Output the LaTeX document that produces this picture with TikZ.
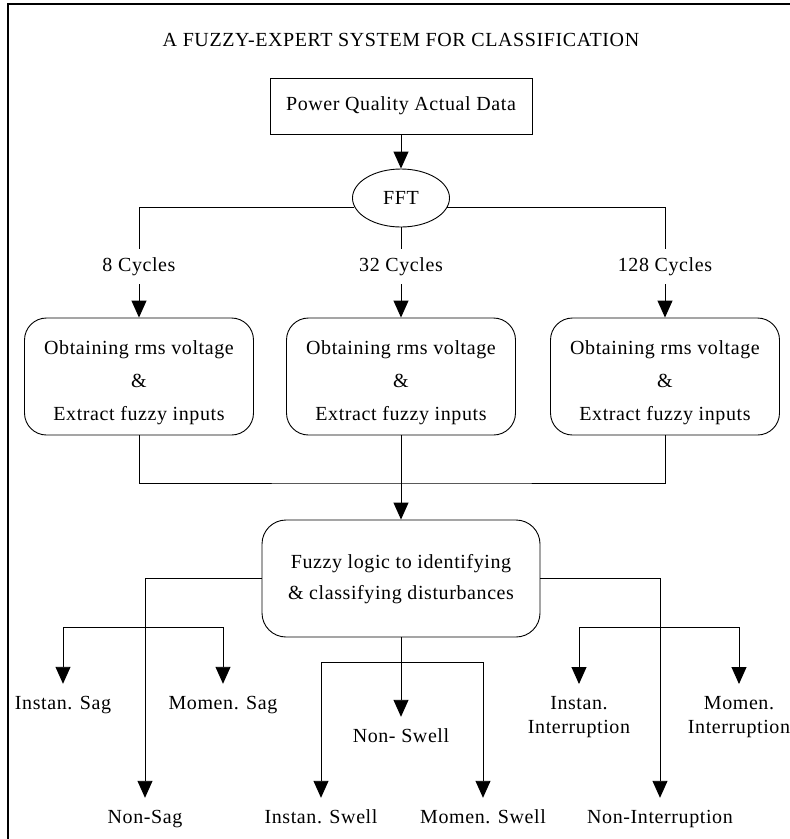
\documentclass[tikz,border=0pt]{standalone}
\usepackage{fontspec}
\setmainfont{Liberation Serif}[LetterSpace=3]
\usetikzlibrary{arrows.meta,shapes.geometric}
\begin{document}
\begin{tikzpicture}[x=1pt,y=1pt,
  every node/.style={font=\fontsize{20}{24}\selectfont},
  ln/.style={line width=0.9pt, draw=black},
  arr/.style={ln,-{Triangle[width=15pt,length=17pt]}},
  sqbox/.style={draw, line width=0.9pt, minimum width=262pt, minimum height=56pt, inner sep=0pt, text height=13pt, text depth=4pt},
  ovalbox/.style={draw, ellipse, line width=0.9pt, minimum width=97pt, minimum height=58pt, inner sep=0pt},
  rbox/.style={draw, line width=0.9pt, rounded corners=22pt, minimum width=229pt, minimum height=117pt, align=center, inner sep=0pt},
  fzbox/.style={draw, line width=0.9pt, rounded corners=24pt, minimum width=278pt, minimum height=117pt, align=center, inner sep=0pt},
  cyc/.style={anchor=base, inner xsep=2pt, inner ysep=9pt, text height=13pt, text depth=4pt},
  outlbl/.style={anchor=base, inner xsep=1pt, inner ysep=12pt, text height=13pt, text depth=4pt},
  outlbltwo/.style={anchor=north, inner xsep=1pt, inner ysep=12pt, align=center},
]
\useasboundingbox (0,0) rectangle (790,-839);
% frame (top and left edges)
\draw[line width=1.6pt] (8,-839) -- (8,-4) -- (790,-4);

% title
\node[anchor=base] (title) at (401,-46) {A FUZZY-EXPERT SYSTEM FOR CLASSIFICATION};

% top part
\node[sqbox] (pq) at (401,-106) {Power Quality Actual Data};
\node[ovalbox] (fft) at (401,-198) {FFT};
\draw[arr] (pq.south) -- (fft.north);

\node[cyc] (c8) at (139,-271) {8 Cycles};
\node[cyc] (c32) at (401,-271) {32 Cycles};
\node[cyc] (c128) at (665,-271) {128 Cycles};

\draw[ln] (fft.191.2) -| (c8.north);
\draw[ln] (fft.348.8) -| (c128.north);
\draw[ln] (fft.south) -- (c32.north);

\node[rbox] (b1) at (139,-376.5) {\rule{0pt}{26pt}Obtaining rms voltage\\[9pt] \&\\[9pt] Extract fuzzy inputs};
\node[rbox] (b2) at (401,-376.5) {\rule{0pt}{26pt}Obtaining rms voltage\\[9pt] \&\\[9pt] Extract fuzzy inputs};
\node[rbox] (b3) at (665,-376.5) {\rule{0pt}{26pt}Obtaining rms voltage\\[9pt] \&\\[9pt] Extract fuzzy inputs};

\draw[arr] (c8.south) -- (b1.north);
\draw[arr] (c32.south) -- (b2.north);
\draw[arr] (c128.south) -- (b3.north);

\coordinate (merge) at (401,-483);
\draw[ln] (b1.south) |- (merge) -| (b3.south);

\node[fzbox] (fz) at (401,-578.5) {\rule{0pt}{16pt}Fuzzy logic to identifying\\[7pt] \& classifying disturbances};
\draw[arr] (b2.south) -- (fz.north);

% outputs
\node[outlbl] (isag) at (63,-709) {Instan. Sag};
\node[outlbl] (msag) at (223,-709) {Momen. Sag};
\node[outlbl] (nsag) at (145,-823) {Non-Sag};
\node[outlbl] (nswell) at (401,-742) {Non- Swell};
\node[outlbl] (iswell) at (321,-823) {Instan. Swell};
\node[outlbl] (mswell) at (483,-823) {Momen. Swell};
\node[outlbl] (nint) at (660,-823) {Non-Interruption};
\node[outlbltwo] (iint) at (579,-684) {Instan.\\Interruption};
\node[outlbltwo] (mint) at (739,-684) {Momen.\\Interruption};

\coordinate (sagJ) at (145,-627);
\coordinate (intJ) at (660,-627);
\coordinate (swJ) at (401,-662);

\draw[arr] (fz.west) -| (nsag.north);
\draw[arr] (fz.east) -| (nint.north);
\draw[arr] (fz.south) -- (nswell.north);

\draw[arr] (sagJ) -| (isag.north);
\draw[arr] (sagJ) -| (msag.north);
\draw[arr] (intJ) -| (iint.north);
\draw[arr] (intJ) -| (mint.north);
\draw[arr] (swJ) -| (iswell.north);
\draw[arr] (swJ) -| (mswell.north);
\end{tikzpicture}
\end{document}
